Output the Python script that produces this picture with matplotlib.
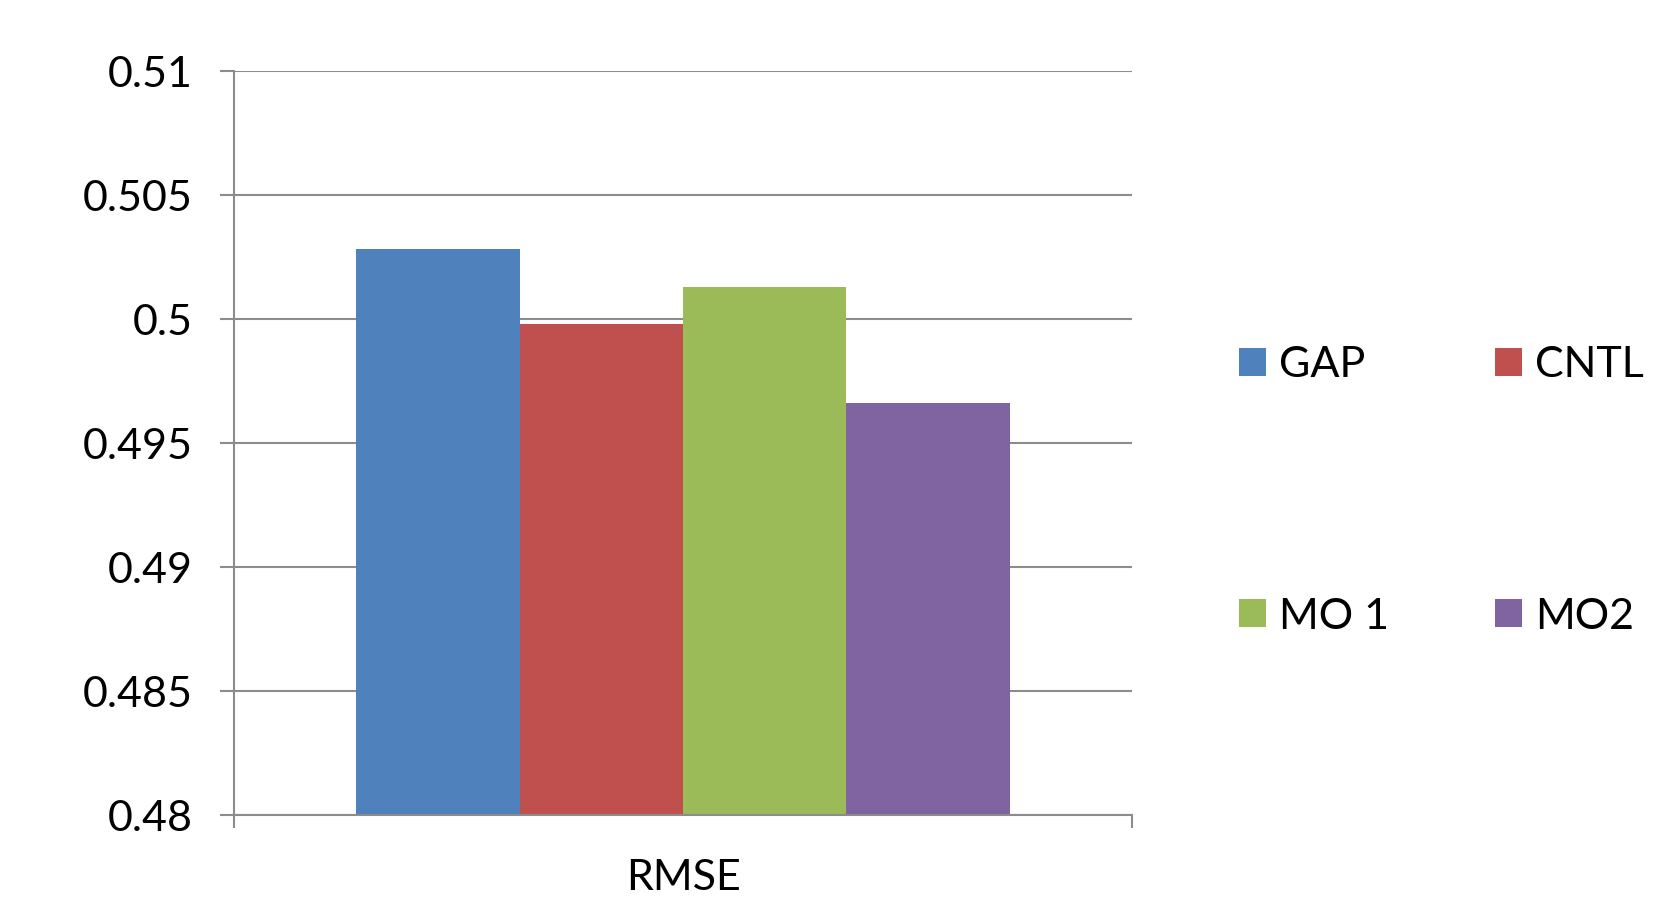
import matplotlib
matplotlib.use("Agg")
import matplotlib.pyplot as plt

plt.rcParams['font.family'] = ['Lato', 'DejaVu Sans']

# RMSE for each model
models = ["GAP", "CNTL", "MO 1", "MO2"]
rmse = [0.50284, 0.49981, 0.50131, 0.49663]
colors = ["#4F81BD", "#C0504D", "#9BBB59", "#8064A2"]

y_ticks = [0.48, 0.485, 0.49, 0.495, 0.5, 0.505, 0.51]
y_tick_labels = ["0.48", "0.485", "0.49", "0.495", "0.5", "0.505", "0.51"]
category = "RMSE"

fontsize = 31
grid_color = "#8C8C8C"
bar_width = 0.182

fig = plt.figure(figsize=(16.71, 8.97), dpi=100)
ax = fig.add_axes([0.1403, 0.0911, 0.537, 0.8293])

bars = []
for i, (name, val, c) in enumerate(zip(models, rmse, colors)):
    x = (i - 1.5) * bar_width
    b = ax.bar(x, val - y_ticks[0], bottom=y_ticks[0], width=bar_width,
               color=c, label=name, zorder=3)
    bars.append(b)

ax.set_xlim(-0.5, 0.5)
ax.set_ylim(y_ticks[0], y_ticks[-1])
ax.set_yticks(y_ticks)
ax.set_yticklabels(y_tick_labels, fontsize=fontsize)
ax.yaxis.grid(True, color=grid_color, linewidth=1.5, zorder=0)
ax.tick_params(axis='y', length=10, width=1.5, color=grid_color, pad=20)

# category label in the middle, end ticks on the x-axis
ax.set_xticks([-0.5, 0.5])
ax.set_xticklabels(["", ""])
ax.tick_params(axis='x', length=9, width=1.5, color=grid_color)
ax.text(0.5, -0.084, category, transform=ax.transAxes, ha='center', va='center',
        fontsize=fontsize)

for side in ['top', 'right']:
    ax.spines[side].set_visible(False)
for side in ['left', 'bottom']:
    ax.spines[side].set_color(grid_color)
    ax.spines[side].set_linewidth(1.5)
    ax.spines[side].set_zorder(4)

# legend is filled column by column, so order handles to read row-wise
order = [0, 2, 1, 3]
fig.legend([bars[i] for i in order], [models[i] for i in order],
           loc='upper left', bbox_to_anchor=(0.731, 0.633), ncol=2,
           frameon=False, fontsize=fontsize, handlelength=0.63,
           handleheight=0.63, handletextpad=0.3, labelspacing=4.95,
           columnspacing=2.47, borderaxespad=0)

fig.savefig("out.png", dpi=100)
